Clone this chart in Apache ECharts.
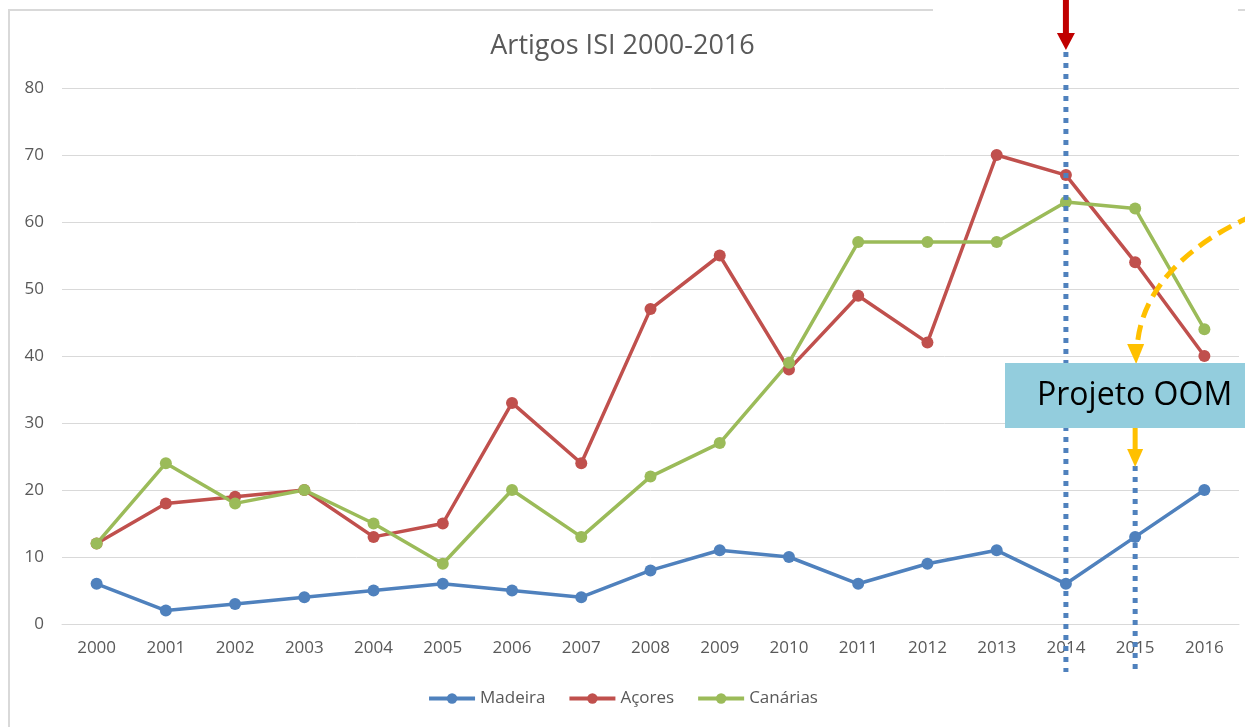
<!DOCTYPE html>
<html>
<head>
<meta charset="utf-8">
<script src="https://cdn.jsdelivr.net/npm/echarts@6/dist/echarts.min.js"></script>
<style>
  html, body { margin: 0; padding: 0; background: #fff; }
  #main { width: 1245px; height: 727px; }
</style>
</head>
<body>
<div id="main"></div>
<script>
// 年份（横轴类目）
const years = ['2000', '2001', '2002', '2003', '2004', '2005', '2006', '2007', '2008',
  '2009', '2010', '2011', '2012', '2013', '2014', '2015', '2016']
// 各地区的论文数量
const madeira = [6, 2, 3, 4, 5, 6, 5, 4, 8, 11, 10, 6, 9, 11, 6, 13, 20]
const acores = [12, 18, 19, 20, 13, 15, 33, 24, 47, 55, 38, 49, 42, 70, 67, 54, 40]
const canarias = [12, 24, 18, 20, 15, 9, 20, 13, 22, 27, 39, 57, 57, 57, 63, 62, 44]

const chart = echarts.init(document.getElementById('main'))
const font = '"Open Sans", "Noto Sans", sans-serif'

function lineSeries (name, data, color) {
  return {
    name: name,
    type: 'line',
    data: data,
    symbol: 'circle',
    symbolSize: 12,
    lineStyle: { width: 3.5, color: color },
    itemStyle: { color: color },
    z: 3
  }
}

chart.setOption({
  animation: false,
  title: {
    text: 'Artigos ISI 2000-2016',
    left: 'center',
    top: 28,
    textStyle: { fontFamily: font, fontSize: 27, fontWeight: 'normal', color: '#595959' }
  },
  grid: { left: 62, right: 6, top: 88, bottom: 103 },
  legend: {
    bottom: 15,
    left: 'center',
    itemWidth: 46,
    itemHeight: 13,
    itemGap: 22,
    lineStyle: { width: 4 },
    textStyle: { fontFamily: font, fontSize: 17, color: '#595959' },
    data: ['Madeira', 'Açores', 'Canárias']
  },
  xAxis: {
    type: 'category',
    data: years,
    boundaryGap: true,
    axisLine: { lineStyle: { color: '#D9D9D9' } },
    axisTick: { show: false },
    axisLabel: { fontFamily: font, fontSize: 17, color: '#595959', margin: 16 }
  },
  yAxis: {
    type: 'value',
    min: 0,
    max: 80,
    interval: 10,
    axisLine: { show: false },
    axisTick: { show: false },
    splitLine: { lineStyle: { color: '#D9D9D9' } },
    axisLabel: { fontFamily: font, fontSize: 17, color: '#595959', margin: 18 }
  },
  series: [
    lineSeries('Madeira', madeira, '#4F81BD'),
    lineSeries('Açores', acores, '#C0504D'),
    lineSeries('Canárias', canarias, '#9BBB59')
  ]
})

// 注释图形：位置根据坐标轴换算
const x14 = chart.convertToPixel({ xAxisIndex: 0 }, '2014')
const x15 = chart.convertToPixel({ xAxisIndex: 0 }, '2015')
const blue = '#4F81BD'
const yellow = '#FFC000'
const dots = { stroke: blue, lineWidth: 5, lineDash: [5, 6] }

chart.setOption({
  graphic: [
    // 图表外框
    { type: 'rect', shape: { x: 9, y: 10, width: 1400, height: 900 },
      style: { fill: 'none', stroke: '#D9D9D9', lineWidth: 2 }, z: 0, silent: true },
    { type: 'rect', shape: { x: 933, y: 0, width: 305, height: 14 },
      style: { fill: '#fff' }, z: 1 },
    // 2014 和 2015 的竖向点线
    { type: 'line', shape: { x1: x14, y1: 52, x2: x14, y2: 672 }, style: dots, z: 10 },
    { type: 'line', shape: { x1: x15, y1: 466, x2: x15, y2: 672 }, style: dots, z: 10 },
    // 红色箭头
    { type: 'line', shape: { x1: x14, y1: 0, x2: x14, y2: 36 },
      style: { stroke: '#C00000', lineWidth: 6 }, z: 11 },
    { type: 'polygon', shape: { points: [[x14 - 9, 33], [x14 + 9, 33], [x14, 50]] },
      style: { fill: '#C00000' }, z: 11 },
    // 黄色虚线弧形箭头
    { type: 'bezierCurve',
      shape: { x1: 1252, y1: 216, cpx1: 1180, cpy1: 248, cpx2: 1140, cpy2: 295, x2: x15 + 2, y2: 348 },
      style: { stroke: yellow, lineWidth: 5, lineDash: [15, 8], fill: 'none' }, z: 12 },
    { type: 'polygon', shape: { points: [[x15 - 8, 344], [x15 + 9, 344], [x15 + 1, 364]] },
      style: { fill: yellow }, z: 12 },
    // Projeto OOM 方框
    { type: 'rect', shape: { x: 1005, y: 363, width: 245, height: 65 },
      style: { fill: '#93CDDD' }, z: 13 },
    { type: 'text', x: 1037, y: 396,
      style: { text: 'Projeto OOM', fill: '#000', font: '32px "Open Sans", "Noto Sans", sans-serif',
        textVerticalAlign: 'middle' }, z: 14 },
    // 下方短黄色箭头
    { type: 'line', shape: { x1: x15, y1: 428, x2: x15, y2: 452 },
      style: { stroke: yellow, lineWidth: 5 }, z: 12 },
    { type: 'polygon', shape: { points: [[x15 - 8, 449], [x15 + 8, 449], [x15, 467]] },
      style: { fill: yellow }, z: 12 }
  ]
})
</script>
</body>
</html>
